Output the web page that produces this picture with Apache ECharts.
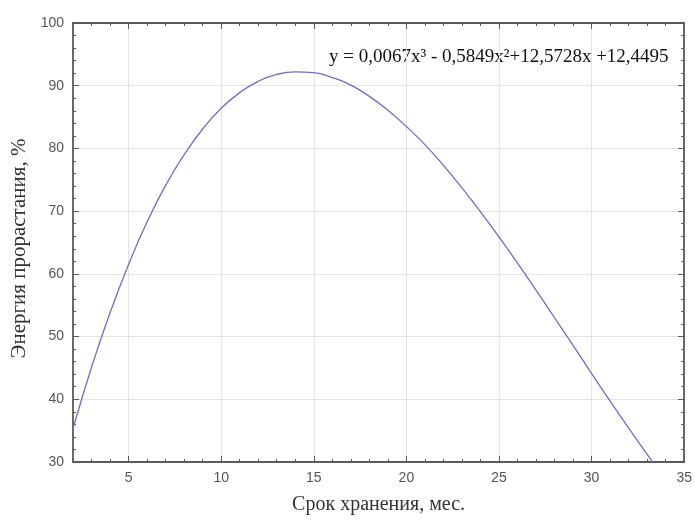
<!DOCTYPE html>
<html>
<head>
<meta charset="utf-8">
<script src="https://cdn.jsdelivr.net/npm/echarts@6/dist/echarts.min.js"></script>
<style>
  html, body { margin: 0; padding: 0; background: #fff; }
  #chart { width: 695px; height: 520px; }
</style>
</head>
<body>
<div id="chart"></div>
<script>
// срок хранения, мес. (значения кривой)
const months = [2, 3, 4, 5, 6, 7, 8, 9, 10, 11, 12, 13, 14, 15, 16, 17, 18,
  19, 20, 21, 22, 23, 24, 25, 26, 27, 28, 29, 30, 31, 32, 33, 34];
const energy = [35.3, 45.1, 53.8, 61.5, 68.3, 74.1, 79.0, 83.1, 86.4, 88.9, 90.7,
  91.8, 92.2, 92.1, 91.3, 90.1, 88.3, 86.1, 83.5, 80.6, 77.3, 73.7, 69.9, 65.9,
  61.7, 57.4, 53.0, 48.6, 44.1, 39.7, 35.4, 31.2, 27.1];
const xTicks = [5, 10, 15, 20, 25, 30, 35];
const equation = 'y = 0,0067x³ - 0,5849x²+12,5728x +12,4495';

const frame = { show: true, lineStyle: { color: '#5a5a5a', width: 1.8 } };
const tickColor = '#5a5a5a';
const labelFont = { color: '#555', fontSize: 14, fontFamily: 'Liberation Sans, Arial, sans-serif' };
const serif = 'Liberation Serif, Times New Roman, serif';

const chart = echarts.init(document.getElementById('chart'));

chart.setOption({
  animation: false,
  grid: { left: 73, right: 9, top: 23, bottom: 56, containLabel: false },
  xAxis: [
    {
      // нижняя ось: мелкие деления через 1
      type: 'value', position: 'bottom', min: 2, max: 35, interval: 1,
      axisLine: frame,
      axisTick: { show: true, inside: true, length: 3, lineStyle: { color: tickColor } },
      axisLabel: Object.assign({
        margin: 9,
        formatter: v => (v % 5 === 0 ? String(v) : '')
      }, labelFont),
      splitLine: {
        show: true,
        lineStyle: { color: ['transparent', 'transparent', 'transparent', '#e3e3e3', 'transparent'] }
      },
      name: 'Срок хранения, мес.',
      nameLocation: 'middle',
      nameGap: 33,
      nameTextStyle: { color: '#333', fontSize: 20, fontFamily: serif }
    },
    {
      type: 'value', position: 'bottom', min: 2, max: 35,
      axisLine: { show: false },
      axisTick: { show: true, inside: true, length: 6, customValues: xTicks, lineStyle: { color: tickColor } },
      axisLabel: { show: false },
      splitLine: { show: false }
    },
    {
      type: 'value', position: 'top', min: 2, max: 35, interval: 1,
      axisLine: frame,
      axisTick: { show: true, inside: true, length: 3, lineStyle: { color: tickColor } },
      axisLabel: { show: false },
      splitLine: { show: false }
    },
    {
      type: 'value', position: 'top', min: 2, max: 35,
      axisLine: { show: false },
      axisTick: { show: true, inside: true, length: 6, customValues: xTicks, lineStyle: { color: tickColor } },
      axisLabel: { show: false },
      splitLine: { show: false }
    }
  ],
  yAxis: [
    {
      type: 'value', position: 'left', min: 30, max: 100, interval: 10,
      axisLine: frame,
      axisTick: { show: true, inside: true, length: 6, lineStyle: { color: tickColor } },
      minorTick: { show: true, splitNumber: 5, length: 3, lineStyle: { color: tickColor } },
      axisLabel: Object.assign({ margin: 9 }, labelFont),
      splitLine: { show: true, lineStyle: { color: '#e3e3e3' } },
      name: 'Энергия прорастания, %',
      nameLocation: 'middle',
      nameGap: 42,
      nameTextStyle: { color: '#333', fontSize: 21, fontFamily: serif, padding: [0, 12, 0, 0] }
    },
    {
      type: 'value', position: 'right', min: 30, max: 100, interval: 10,
      axisLine: frame,
      axisTick: { show: true, inside: true, length: 6, lineStyle: { color: tickColor } },
      minorTick: { show: true, splitNumber: 5, length: 3, lineStyle: { color: tickColor } },
      axisLabel: { show: false },
      splitLine: { show: false }
    }
  ],
  graphic: [
    {
      type: 'text',
      left: 329,
      top: 48,
      style: {
        text: equation,
        fill: '#111',
        fontSize: 19,
        fontFamily: serif
      }
    }
  ],
  series: [
    {
      type: 'line',
      xAxisIndex: 0,
      yAxisIndex: 0,
      data: months.map((m, i) => [m, energy[i]]),
      smooth: true,
      showSymbol: false,
      clip: true,
      lineStyle: { color: '#6e6ec6', width: 1.3 }
    }
  ]
});
</script>
</body>
</html>
